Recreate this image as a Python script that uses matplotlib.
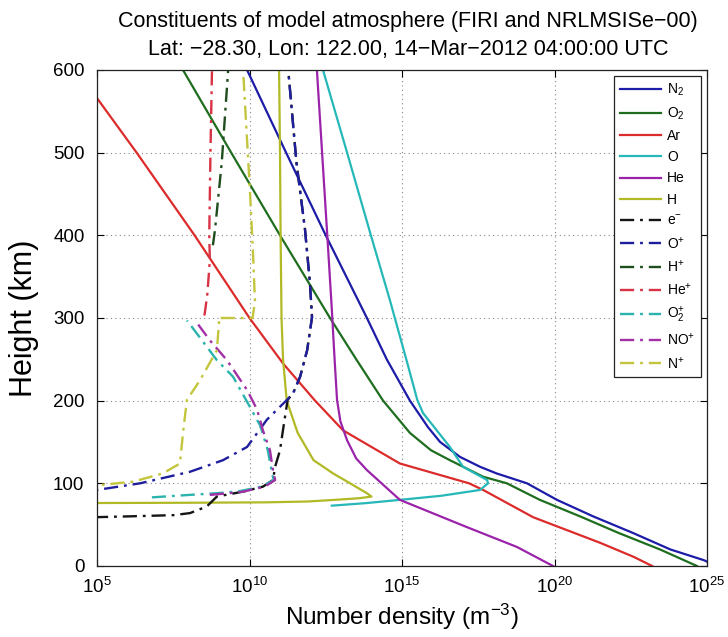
import numpy as np
import matplotlib
matplotlib.use("Agg")
import matplotlib.pyplot as plt
from matplotlib.ticker import FixedLocator, NullLocator

plt.rcParams['font.family'] = ['Liberation Sans', 'DejaVu Sans']
plt.rcParams['mathtext.default'] = 'regular'

# ---- data: heights (km) and log10 number density (m^-3) ----
n2_h = [0, 7, 20, 40, 60, 80, 100, 112, 120, 132, 150, 168, 200, 250, 300, 400, 500, 600]
n2_log = [25.3, 24.9, 23.8, 22.57, 21.27, 20.08, 19.1, 18.1, 17.56, 16.9, 16.25, 15.85, 15.26, 14.5, 13.85, 12.5, 11.2, 9.92]

o2_h = [0, 20, 40, 60, 80, 100, 108, 128, 140, 161, 200, 250, 300, 400, 500, 600]
o2_log = [24.67, 23.46, 22.1, 20.84, 19.52, 18.44, 17.66, 16.57, 15.95, 15.26, 14.38, 13.5, 12.64, 11.0, 9.4, 7.82]

ar_h = [0, 11, 28, 59, 92, 100, 124, 164, 200, 245, 300, 400, 500, 566, 600]
ar_log = [23.2, 22.6, 21.5, 19.3, 17.66, 17.2, 14.93, 13.07, 12.15, 11.1, 10.0, 8.2, 6.3, 5.0, 4.4]

o_h = [73, 76, 80, 85, 92, 100, 104, 120, 144, 185, 201, 242, 282, 322, 400, 500, 600]
o_log = [12.7, 13.8, 14.93, 16.3, 17.56, 17.82, 17.79, 17.0, 16.57, 15.69, 15.5, 15.2, 14.9, 14.6, 13.98, 13.2, 12.41]

he_h = [0, 23, 47, 80, 100, 116, 130, 152, 175, 201, 250, 310, 400, 500, 600]
he_log = [19.95, 18.77, 17.13, 14.93, 14.33, 13.85, 13.5, 13.2, 12.98, 12.87, 12.79, 12.7, 12.55, 12.38, 12.21]

h_h = [76, 76.2, 76.5, 77, 78, 80, 82, 84, 88, 100, 112, 128, 161, 200, 250, 300, 400, 500, 600]
h_log = [4.5, 5.0, 8.0, 10.5, 11.9, 12.8, 13.6, 14.0, 13.85, 13.3, 12.74, 12.1, 11.58, 11.22, 11.1, 11.05, 11.02, 11.0, 10.97]

e_h = [59, 60, 61.5, 64, 72, 84, 90, 96, 104, 120, 140, 165, 201, 209, 229, 261, 301, 343, 407, 488, 600]
e_log = [4.9, 6.0, 7.5, 8.05, 8.6, 8.93, 9.79, 10.44, 10.77, 10.84, 11.0, 11.1, 11.25, 11.43, 11.66, 11.89, 12.05, 11.98, 11.82, 11.54, 11.27]

op_h = [88, 92, 100, 114, 128, 144, 177, 201, 209, 229, 261, 301, 343, 407, 488, 600]
op_log = [4.3, 5.0, 6.41, 8.05, 9.13, 9.92, 10.57, 11.23, 11.43, 11.66, 11.89, 12.05, 11.98, 11.82, 11.54, 11.27]

hp_h = [388, 407, 488, 600]
hp_log = [8.8, 8.87, 9.09, 9.30]

hep_h = [303, 310, 330, 370, 400, 500, 600]
hep_log = [8.52, 8.55, 8.62, 8.7, 8.68, 8.72, 8.77]

o2p_h = [83, 85, 88, 90, 96, 104, 110, 140, 170, 200, 229, 249, 280, 297]
o2p_log = [6.8, 7.6, 8.9, 9.6, 10.4, 10.8, 10.75, 10.6, 10.35, 9.9, 9.46, 8.93, 8.3, 7.95]

nop_h = [86, 88, 90, 96, 104, 116, 140, 164, 189, 213, 249, 273, 294]
nop_log = [8.7, 9.3, 9.8, 10.5, 10.84, 10.77, 10.67, 10.44, 10.25, 9.92, 9.26, 8.7, 8.28]

np_h = [96, 98, 102, 112, 124, 161, 180, 201, 225, 261, 294, 300, 300, 320, 382, 450, 600]
np_log = [4.5, 5.1, 6.18, 7.16, 7.72, 7.82, 7.88, 7.95, 8.38, 8.93, 9.0, 8.97, 10.1, 10.18, 10.11, 10.02, 9.79]

labels = ['N$_2$', 'O$_2$', 'Ar', 'O', 'He', 'H', 'e$^{-}$', 'O$^{+}$', 'H$^{+}$',
          'He$^{+}$', 'O$_2^{+}$', 'NO$^{+}$', 'N$^{+}$']

x_ticks = [1e5, 1e10, 1e15, 1e20, 1e25]
y_ticks = [0, 100, 200, 300, 400, 500, 600]

series = [
    (n2_h, n2_log, '#1c1ca8', '-'),
    (o2_h, o2_log, '#1f6e1f', '-'),
    (ar_h, ar_log, '#dc2b2b', '-'),
    (o_h, o_log, '#26b8b8', '-'),
    (he_h, he_log, '#9a23aa', '-'),
    (h_h, h_log, '#b1b925', '-'),
    (e_h, e_log, '#151515', '-.'),
    (op_h, op_log, '#1f1f9e', '-.'),
    (hp_h, hp_log, '#1e4d1e', '-.'),
    (hep_h, hep_log, '#d83345', '-.'),
    (o2p_h, o2p_log, '#2bb3ad', '-.'),
    (nop_h, nop_log, '#a12fa6', '-.'),
    (np_h, np_log, '#c3c63c', '-.'),
]

fig = plt.figure(figsize=(7.28, 6.37), dpi=100)
ax = fig.add_axes([97/728, 1-566/637, 610/728, 496/637])

for (hh, lg, col, ls), lab in zip(series, labels):
    dens = np.power(10.0, np.array(lg))
    if ls == '-.':
        ax.plot(dens, hh, color=col, lw=1.7, linestyle=(0, (6, 2.5, 1.2, 2.5)), label=lab)
    else:
        ax.plot(dens, hh, color=col, lw=1.6, linestyle='-', label=lab)

ax.set_xscale('log')
ax.set_xlim(1e5, 1e25)
ax.set_ylim(0, 600)
ax.xaxis.set_major_locator(FixedLocator(x_ticks))
ax.xaxis.set_minor_locator(NullLocator())
ax.yaxis.set_major_locator(FixedLocator(y_ticks))
ax.tick_params(direction='in', top=True, right=True, length=5, labelsize=13.5, width=0.8)
ax.tick_params(axis='x', pad=8)
ax.tick_params(axis='y', pad=9)
ax.grid(True, linestyle=(0, (1, 3)), color='#888888', lw=0.8)
for s in ax.spines.values():
    s.set_linewidth(0.9)
    s.set_color('#222222')

ax.set_xlabel('Number density (m$^{-3}$)', fontsize=17.5, labelpad=3)
ax.set_ylabel('Height (km)', fontsize=22, labelpad=10)
ax.set_title('Constituents of model atmosphere (FIRI and NRLMSISe\u221200)\n'
             'Lat: \u221228.30, Lon: 122.00, 14\u2212Mar\u22122012 04:00:00 UTC',
             fontsize=15.5, linespacing=1.4, pad=11, x=0.51)

leg = ax.legend(loc='upper right', fontsize=10, handlelength=3.0, labelspacing=0.52,
                borderaxespad=0.45, fancybox=False, edgecolor='#222222', framealpha=1,
                handletextpad=0.4, borderpad=0.4)
leg.get_frame().set_linewidth(0.9)

fig.savefig('out.png', dpi=100)
